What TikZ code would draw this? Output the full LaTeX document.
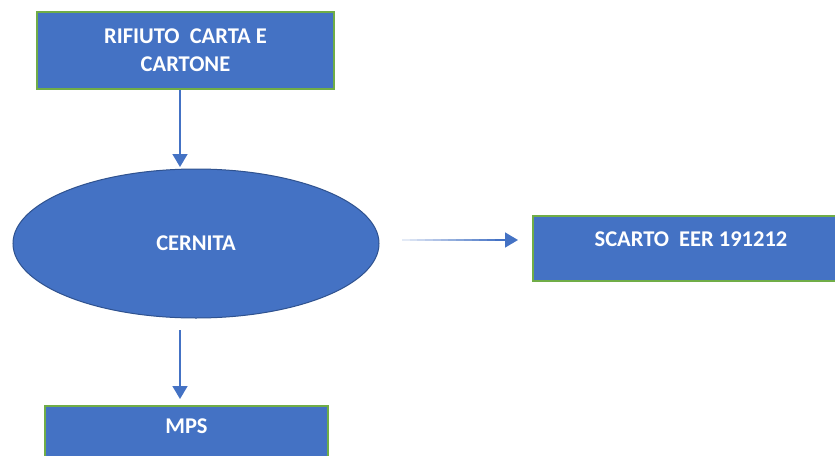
\documentclass[tikz,border=0pt]{standalone}
\usepackage{fontspec}
\setmainfont{Carlito}
\usetikzlibrary{arrows.meta,shapes.geometric,calc}
\definecolor{boxblue}{HTML}{4472C4}
\definecolor{boxgreen}{HTML}{70AD47}
\definecolor{darkedge}{HTML}{2F528F}
\tikzset{
  flowbox/.style={rectangle, fill=boxblue, draw=boxgreen, line width=1.5pt, inner sep=0pt},
  flowell/.style={ellipse, fill=boxblue, draw=darkedge, line width=1pt, inner sep=0pt},
  wtext/.style={text=white, font=\fontsize{22.5}{28}\selectfont\bfseries, align=center},
  arr/.style={draw=boxblue, line width=1.6pt, -{Triangle[width=15pt,length=13pt]}}
}
\begin{document}
\begin{tikzpicture}[x=1pt,y=1pt]
\useasboundingbox (0,0) rectangle (835,-455);
\clip (0,0) rectangle (835,-455);
\node[flowbox, minimum width=297pt, minimum height=77pt, wtext] (rif) at (185.5,-50.5) {RIFIUTO\ \ CARTA E\\CARTONE};
\node[flowell, minimum width=366pt, minimum height=149pt, wtext] (cern) at (196,-243.5) {CERNITA};
\node[flowbox, minimum width=316pt, minimum height=65pt] (scarto) at (691,-248.5) {};
\node[wtext] (scartotxt) at ([yshift=-24pt]scarto.north) {SCARTO\ \ EER 191212};
\node[flowbox, minimum width=283pt, minimum height=80pt] (mps) at (186.5,-446) {};
\node[wtext] (mpstxt) at ([yshift=-21pt]mps.north) {MPS};
\coordinate (a1) at (180,-167);
\coordinate (a2s) at (180,-330);
\coordinate (a2e) at (180,-399);
\coordinate (h1) at (402,-240);
\coordinate (h2) at (518,-240);
\draw[arr] ([xshift=-5.5pt]rif.south) -- (a1);
\draw[arr] (a2s) -- (a2e);
\foreach \i in {0,...,11}{
  \pgfmathsetmacro{\pc}{15+\i*7}
  \draw[draw=boxblue!\pc!white, line width=1.6pt] ($(h1)!\i/15!(h2)$) -- ($(h1)!\i/15+1/15!(h2)$);
}
\draw[arr] ($(h1)!12/15!(h2)$) -- (h2);
\end{tikzpicture}
\end{document}
